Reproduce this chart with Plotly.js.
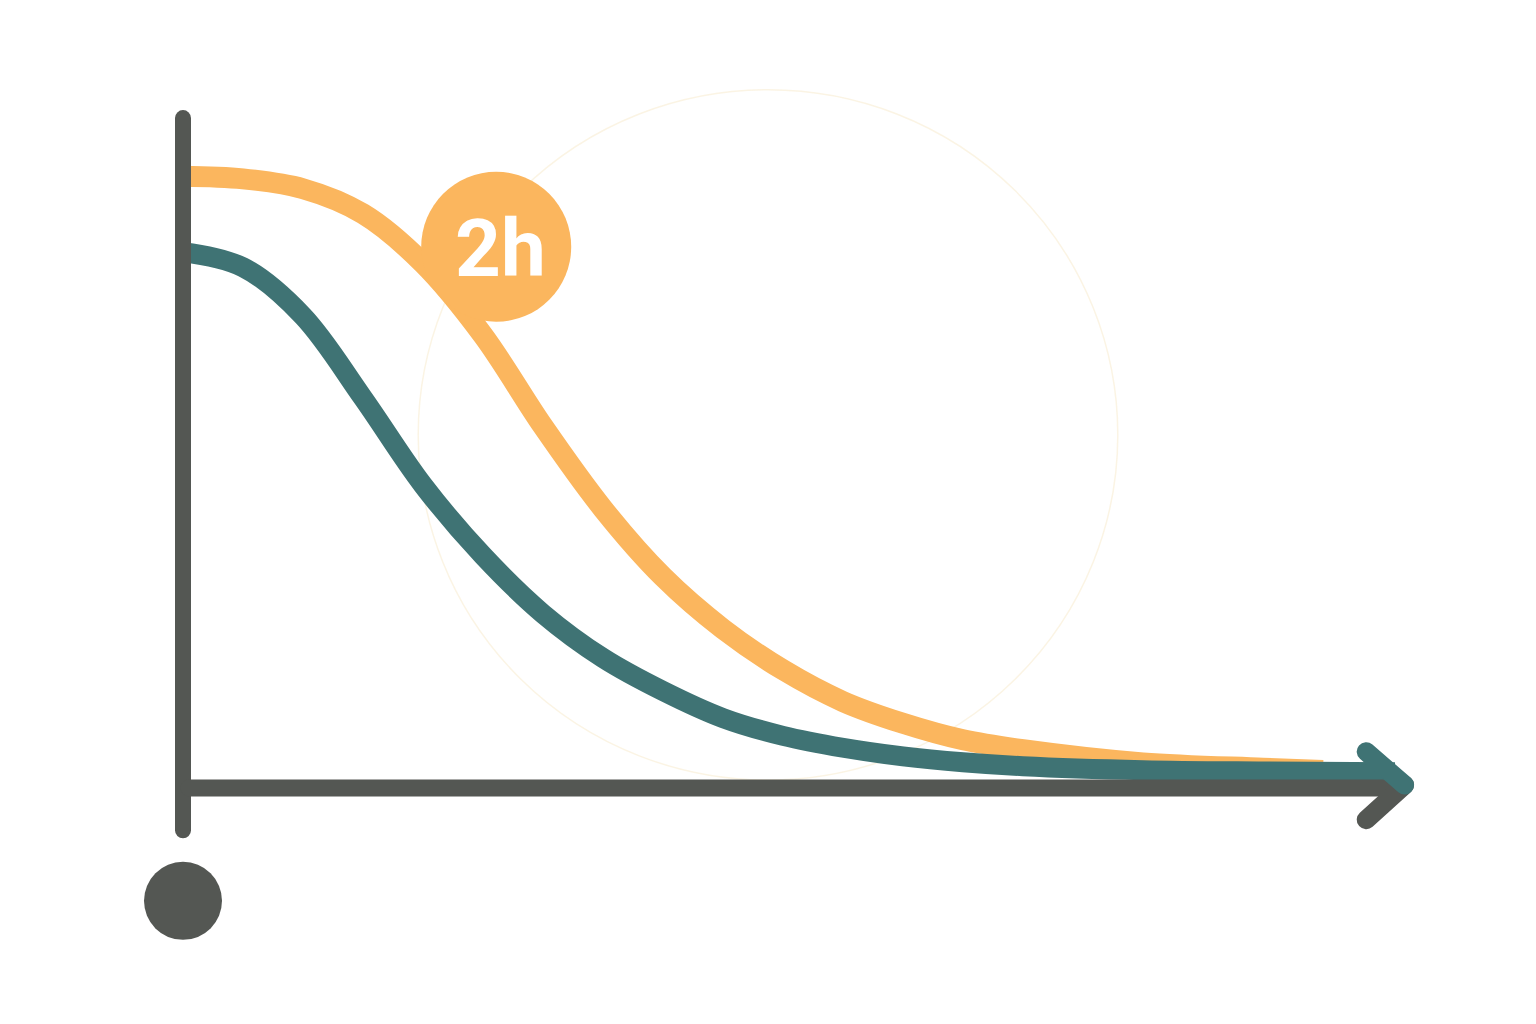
<!DOCTYPE html>
<html>
<head>
<meta charset="utf-8">
<script src="https://cdn.plot.ly/plotly-3.0.1.min.js"></script>
<style>html,body{margin:0;padding:0;background:#fff;}#chart{width:1536px;height:1024px;}</style>
</head>
<body>
<div id="chart"></div>
<script>
// Time (hours) and level (%)
const orangeTime  = [0, 0.5, 1, 1.5, 2, 2.5, 3, 3.5, 4, 4.5, 5, 5.5, 6, 6.5, 7, 8, 9, 9.5];
const orangeLevel = [92.7, 92.3, 90.8, 87.0, 79.5, 68.6, 54.8, 42.3, 32.0, 24.1, 17.9, 13.1, 9.8, 7.3, 5.8, 3.8, 3.0, 2.65];
const tealTime    = [0, 0.5, 1, 1.5, 2, 2.5, 3, 3.5, 4, 4.5, 5, 5.5, 6, 6.5, 7, 8, 9, 10.1];
const tealLevel   = [81.2, 78.9, 71.5, 59.1, 45.9, 35.2, 26.4, 19.7, 14.7, 10.6, 7.9, 6.1, 4.8, 3.9, 3.3, 2.7, 2.5, 2.4];
const badgeLabel  = ["2h"];
const badgeTime   = [2.61];
const badgeLevel  = [82.0];
const originPoint = { t: [0], v: [-17.1] };

const ORANGE = '#FBB65E', TEAL = '#3F7374', GRAY = '#545753';

const traces = [
  { x: orangeTime, y: orangeLevel, mode: 'lines', line: { color: ORANGE, width: 21, shape: 'spline', smoothing: 1 }, hoverinfo: 'skip' },
  { x: tealTime, y: tealLevel, mode: 'lines', line: { color: TEAL, width: 20, shape: 'spline', smoothing: 1 }, hoverinfo: 'skip' },
  { x: badgeTime, y: badgeLevel, mode: 'markers', marker: { color: ORANGE, size: 150, line: { width: 0 } }, hoverinfo: 'skip' },
  { x: originPoint.t, y: originPoint.v, mode: 'markers', marker: { color: GRAY, size: 78, line: { width: 0 } }, hoverinfo: 'skip' }
];

const layout = {
  width: 1536, height: 1024,
  margin: { l: 0, r: 0, t: 0, b: 0, pad: 0 },
  paper_bgcolor: '#ffffff', plot_bgcolor: '#ffffff',
  showlegend: false,
  xaxis: { range: [-183/120, (1536-183)/120], visible: false, fixedrange: true },
  yaxis: { range: [-(1024-788)/6.6, 788/6.6], visible: false, fixedrange: true },
  shapes: [
    { type: 'circle', xref: 'x', yref: 'y', x0: 1.96, x1: 7.79, y0: 1.2, y1: 105.8, layer: 'below',
      line: { color: 'rgba(246,230,195,0.45)', width: 1.5 } },
    { type: 'line', xref: 'x', yref: 'y', x0: 0, x1: 0, y0: -6.4, y1: 101.5, line: { color: GRAY, width: 16 } },
    { type: 'line', xref: 'x', yref: 'y', x0: 0.05, x1: 10.16, y0: 0, y1: 0, line: { color: GRAY, width: 17 } },
    { type: 'line', xref: 'x', yref: 'y', x0: 9.86, x1: 10.18, y0: -4.8, y1: 0.45, line: { color: GRAY, width: 19 } },
    { type: 'line', xref: 'x', yref: 'y', x0: 9.86, x1: 10.18, y0: 5.5, y1: 0.45, line: { color: TEAL, width: 19 } }
  ],
  annotations: [
    { x: badgeTime[0], y: badgeLevel[0], xref: 'x', yref: 'y', text: '<b>' + badgeLabel[0] + '</b>', showarrow: false,
      xanchor: 'center', yanchor: 'middle', yshift: -2, xshift: 4,
      font: { family: 'Roboto, Inter, sans-serif', size: 80, color: '#ffffff' } }
  ]
};

Plotly.newPlot('chart', traces, layout, { staticPlot: true, displayModeBar: false }).then(function () {
  document.querySelectorAll('.shapelayer path').forEach(function (p) {
    p.style.strokeLinecap = 'round';
    p.style.strokeLinejoin = 'round';
  });
  document.querySelectorAll('.scatterlayer .js-line').forEach(function (p) {
    p.style.strokeLinejoin = 'round';
  });
});
</script>
</body>
</html>
